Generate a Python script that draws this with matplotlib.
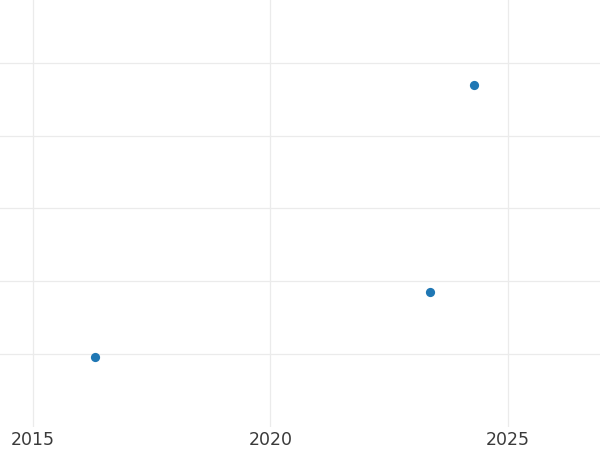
import matplotlib.pyplot as plt

# values
years = [2016.3, 2023.36, 2024.28]
values = [0.96, 1.85, 4.70]
x_ticks = [2015, 2020, 2025]
y_ticks = [1, 2, 3, 4, 5]


def main():
    fig = plt.figure(figsize=(6, 4.5), dpi=100)
    ax = fig.add_axes([0, 0.0517, 1, 0.9483])

    ax.scatter(years, values, s=44, color="#1f77b4", zorder=3, linewidths=0)

    ax.set_xlim(2014.305, 2026.94)
    ax.set_ylim(0, 5.866)
    ax.set_xticks(x_ticks)
    ax.set_xticklabels([str(y) for y in x_ticks])
    ax.set_yticks(y_ticks)
    ax.set_yticklabels([])

    ax.grid(True, color="#ebebeb", linewidth=0.9)
    ax.set_axisbelow(True)
    for spine in ax.spines.values():
        spine.set_visible(False)

    ax.tick_params(axis="both", length=0)
    ax.tick_params(axis="x", labelsize=12.5, labelcolor="#3a3a3a", pad=3)

    fig.savefig("out.png", dpi=100, facecolor="white")
    plt.close(fig)


if __name__ == "__main__":
    main()
